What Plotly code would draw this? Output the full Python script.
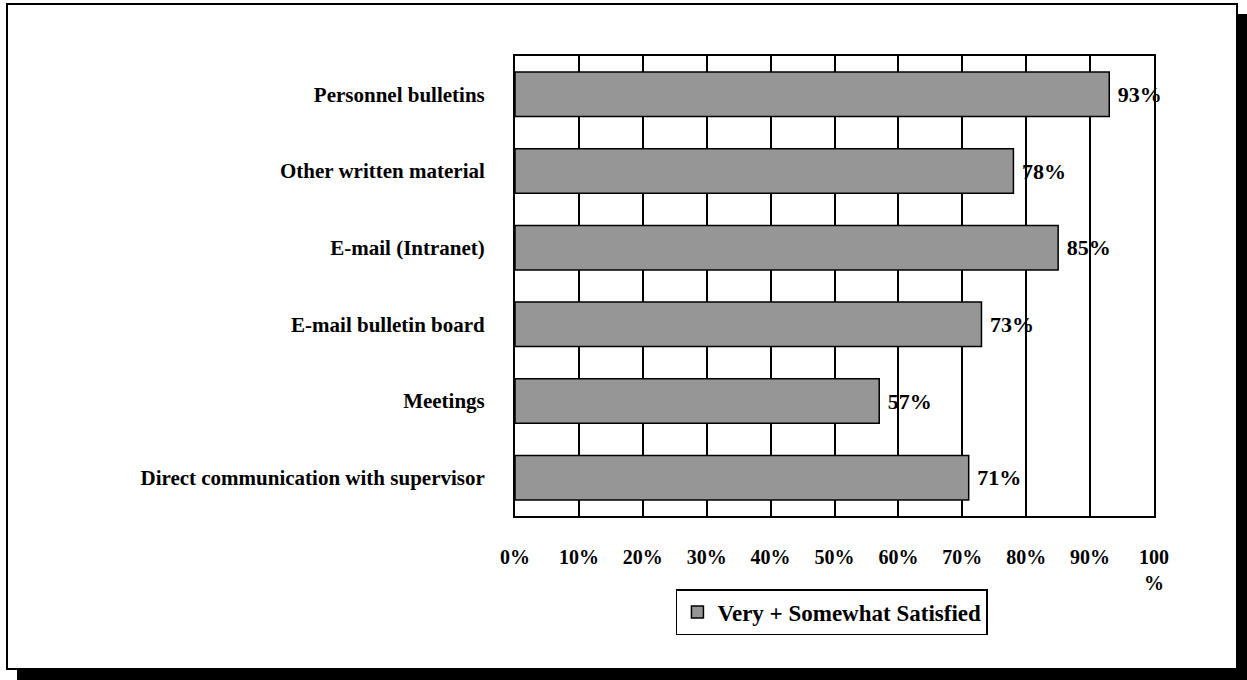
import plotly.graph_objects as go

categories = ["Personnel bulletins", "Other written material", "E-mail (Intranet)",
              "E-mail bulletin board", "Meetings", "Direct communication with supervisor"]
values = [93, 78, 85, 73, 57, 71]
tick_vals = [0, 10, 20, 30, 40, 50, 60, 70, 80, 90, 100]
tick_text = ["0%", "10%", "20%", "30%", "40%", "50%", "60%", "70%", "80%", "90%", "100<br>%"]
series_name = "Very + Somewhat Satisfied"

W, H = 1247, 680
L, R, T, B = 515, 1154, 56, 516
FONT = "Liberation Serif"

def px(x):
    return (x - L) / (R - L)

def py(y):
    return (B - y) / (B - T)

fig = go.Figure()
fig.add_trace(go.Bar(
    x=values, y=categories, orientation="h", name=series_name,
    marker=dict(color="#969696", line=dict(color="black", width=1.5)),
    text=[f" {v}%" for v in values], textposition="outside",
    textfont=dict(family=FONT, size=22, color="black", weight="bold"),
    cliponaxis=False, showlegend=True,
))

shapes = [
    dict(type="rect", xref="paper", yref="paper", x0=px(17), x1=px(1247), y0=py(14), y1=py(680),
         fillcolor="black", line=dict(width=0), layer="below"),
    dict(type="rect", xref="paper", yref="paper", x0=px(7), x1=px(1237), y0=py(4), y1=py(669),
         fillcolor="white", line=dict(color="black", width=2), layer="below"),
]

fig.update_layout(
    width=W, height=H,
    margin=dict(l=L, r=W - R, t=T, b=H - B, autoexpand=False),
    paper_bgcolor="white", plot_bgcolor="white",
    font=dict(family=FONT, color="black", size=19, weight="bold"),
    bargap=0.42,
    shapes=shapes,
    showlegend=True,
    legend=dict(
        x=0.496, y=-0.209, xanchor="center", yanchor="middle",
        bordercolor="black", borderwidth=1.5, bgcolor="white",
        font=dict(family=FONT, size=23, color="black", weight="bold"),
    ),
    xaxis=dict(
        range=[0, 100], tickvals=tick_vals, ticktext=tick_text,
        showgrid=True, gridcolor="black", gridwidth=1.5,
        showline=True, linecolor="black", linewidth=2, mirror=True,
        ticks="", zeroline=False, ticklabelstandoff=22,
        tickfont=dict(family=FONT, size=20, color="black", weight="bold"),
        fixedrange=True,
    ),
    yaxis=dict(
        autorange="reversed", showgrid=False,
        showline=True, linecolor="black", linewidth=2, mirror=True,
        ticks="", ticklabelstandoff=24,
        tickfont=dict(family=FONT, size=21, color="black", weight="bold"),
        fixedrange=True,
    ),
)

fig.write_html("out.html")
